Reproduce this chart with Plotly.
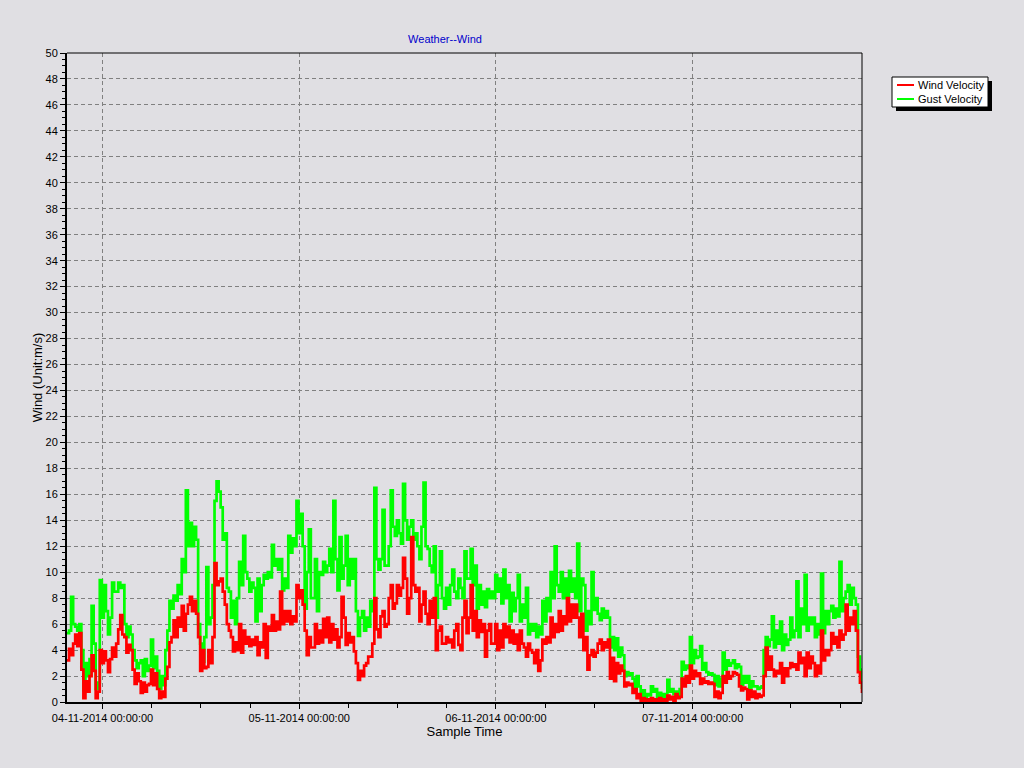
import plotly.graph_objects as go
import pandas as pd

START = "2014-11-03 19:40"
STEP = "15min"

# Wind velocity (m/s), one sample per 15 min (4 per row = 1 hour)
wind = [
    3.2, 4.1, 3.6, 4.5,
    5.2, 4.3, 5.3, 2.5,
    0.3, 1.6, 0.8, 2.0,
    3.6, 2.4, 0.3, 0.8,
    4.0, 3.0, 3.9, 3.2,
    2.3, 3.3, 4.2, 3.5,
    4.5, 5.6, 6.7, 5.2,
    5.0, 3.8, 4.4, 4.0,
    2.5, 1.4, 2.2, 1.6,
    0.7, 1.5, 0.8, 1.3,
    1.4, 2.5, 1.3, 2.2,
    1.0, 0.3, 0.8, 0.4,
    1.8, 2.7, 4.6, 5.0,
    6.3, 5.0, 6.5, 5.8,
    7.4, 5.5, 6.8, 7.5,
    8.1, 7.0, 7.8, 6.8,
    5.0, 2.4, 4.0, 2.6,
    2.7, 4.0, 3.0, 5.0,
    10.7, 9.0, 9.3, 9.5,
    8.5, 7.5, 6.0, 5.5,
    5.0, 3.9, 4.6, 4.0,
    6.0, 3.8, 5.5, 4.5,
    5.0, 4.3, 4.8, 4.4,
    5.0, 3.6, 4.6, 4.2,
    6.0, 3.4, 5.8, 5.5,
    6.7, 5.5, 6.2, 5.6,
    8.5, 6.0, 7.0, 6.2,
    7.0, 6.0, 6.6, 6.2,
    9.0, 8.0, 8.6, 7.5,
    5.5, 3.6, 5.0, 4.2,
    4.2, 6.0, 4.5, 5.5,
    4.6, 6.4, 5.0, 6.5,
    4.6, 6.0, 4.8, 5.6,
    4.2, 5.0, 8.1, 6.5,
    4.4, 5.3, 4.6, 5.0,
    3.9, 3.0, 1.7, 2.4,
    2.0, 2.8, 3.0, 3.5,
    3.5, 4.5, 8.0, 5.6,
    5.0, 6.6, 7.0, 5.8,
    6.0, 8.0, 9.0, 7.2,
    7.6, 9.0, 8.2, 8.8,
    11.1, 9.5, 6.8, 8.0,
    12.7, 9.0, 8.5, 8.8,
    6.2, 7.5, 8.5, 6.8,
    6.0, 7.8, 6.5, 8.0,
    4.0, 5.5, 5.8, 4.5,
    4.5, 5.0, 4.6, 4.8,
    4.2, 5.5, 6.0, 4.4,
    4.0, 6.5, 7.8, 5.3,
    6.5, 9.0, 5.5, 7.0,
    5.0, 6.3, 5.4, 6.0,
    3.5, 5.5, 6.0, 4.5,
    4.5, 6.0, 4.0, 5.5,
    4.2, 6.0, 5.0, 5.8,
    4.6, 5.5, 4.5, 5.2,
    4.0, 5.5, 4.5, 4.2,
    3.5, 4.5, 4.0, 3.8,
    3.0, 4.0, 2.4, 3.2,
    4.8, 4.5, 5.0, 4.6,
    6.5, 5.0, 6.0, 5.4,
    7.0, 5.5, 6.6, 6.0,
    8.0, 6.2, 7.5, 6.5,
    7.5, 6.5, 5.0, 6.8,
    4.0, 5.0, 2.5, 3.6,
    4.0, 3.5, 3.8, 4.5,
    4.8, 4.0, 4.6, 4.2,
    4.8, 1.8, 3.4, 1.6,
    3.0, 2.2, 2.8, 2.4,
    1.2, 1.5, 1.3, 1.4,
    0.7, 1.0, 0.3, 0.6,
    0.0, 0.3, 0.1, 0.2,
    0.0, 0.3, 0.1, 0.2,
    0.1, 0.3, 0.0, 0.2,
    0.0, 0.5, 0.2, 0.4,
    0.1, 0.6, 0.3, 0.4,
    1.8, 1.2, 2.0, 1.5,
    2.8, 1.8, 2.4, 2.0,
    2.2, 1.4, 1.8, 1.5,
    1.6, 1.4, 1.5, 1.4,
    0.4, 0.8, 0.3, 0.7,
    2.0, 1.5, 2.3, 1.8,
    2.0, 2.3, 2.2, 2.1,
    1.2, 0.9, 1.1, 1.0,
    0.2, 0.9, 0.4, 0.8,
    0.3, 0.6, 0.4, 0.5,
    2.0, 4.2, 2.5, 3.5,
    2.5, 2.0, 2.4, 2.2,
    3.0, 1.5, 2.6, 2.0,
    2.6, 3.0, 2.7, 2.9,
    2.5, 3.8, 3.0, 3.4,
    2.0, 3.8, 2.6, 3.5,
    3.0, 2.0, 2.8, 2.2,
    5.5, 3.2, 4.0, 3.6,
    4.0, 5.3, 4.5, 5.0,
    4.2, 5.5, 4.8, 5.2,
    7.5, 5.5, 6.5, 6.0,
    7.0, 5.5, 2.3, 1.5,
    0.7,
]

# Gust velocity (m/s), same sample times
gust = [
    5.3, 5.5, 8.1, 6.0,
    5.8, 5.5, 6.0, 4.0,
    0.9, 3.0, 2.0, 3.3,
    7.4, 4.5, 1.0, 1.5,
    9.4, 6.5, 9.0, 7.0,
    5.2, 6.5, 9.2, 8.5,
    8.5, 9.2, 8.8, 9.0,
    6.0, 5.0, 5.8, 5.2,
    4.0, 3.2, 2.6, 3.0,
    3.2, 2.0, 3.3, 2.4,
    2.8, 4.8, 2.6, 3.5,
    2.4, 1.0, 2.0, 1.3,
    4.0, 5.5, 7.8, 7.2,
    8.2, 7.8, 9.0, 8.3,
    11.0, 10.0, 16.3, 12.0,
    13.8, 12.0, 13.5, 12.5,
    6.0, 4.5, 3.1, 5.0,
    10.4, 6.0, 6.5, 9.0,
    15.5, 17.0, 16.2, 15.0,
    12.5, 13.0, 8.8, 8.5,
    6.5, 7.8, 6.0, 8.0,
    10.8, 9.0, 12.8, 10.0,
    9.5, 8.5, 9.2, 8.8,
    6.2, 9.5, 7.0, 9.0,
    9.8, 9.5, 10.0, 9.6,
    12.1, 10.5, 11.0, 10.2,
    11.0, 8.6, 9.5, 8.8,
    12.8, 11.5, 12.6, 12.0,
    15.5, 13.0, 14.5, 12.0,
    7.2, 10.0, 13.3, 8.0,
    8.0, 11.0, 7.0, 10.0,
    9.8, 10.8, 10.0, 10.5,
    11.8, 10.0, 15.5, 11.0,
    8.6, 12.7, 9.5, 10.5,
    12.8, 9.0, 11.0, 9.5,
    11.0, 7.0, 5.1, 6.5,
    7.0, 5.5, 6.5, 5.8,
    7.8, 7.0, 16.5, 11.0,
    10.2, 11.0, 14.8, 10.5,
    10.5, 12.0, 16.3, 13.5,
    12.8, 14.0, 13.0, 12.2,
    16.8, 14.0, 12.5, 13.5,
    14.0, 12.5, 13.0, 12.0,
    11.0, 13.5, 16.9, 12.0,
    11.8, 10.5, 10.0, 12.0,
    6.5, 9.0, 11.6, 8.0,
    7.2, 8.8, 7.5, 9.0,
    10.2, 8.5, 8.0, 9.5,
    8.8, 8.0, 11.6, 9.5,
    9.5, 11.8, 9.0, 10.5,
    7.2, 9.0, 7.5, 8.5,
    7.3, 8.7, 8.0, 8.5,
    8.0, 9.8, 8.5, 9.5,
    7.6, 10.2, 8.0, 9.0,
    6.2, 8.4, 7.0, 8.0,
    9.8, 6.2, 7.5, 6.5,
    8.8, 5.2, 6.0, 5.5,
    6.0, 5.0, 5.8, 5.2,
    7.8, 6.2, 8.0, 7.0,
    10.0, 8.0, 12.0, 9.0,
    8.5, 10.0, 8.0, 9.5,
    8.2, 10.1, 8.5, 9.5,
    8.0, 12.2, 7.0, 9.5,
    9.0, 5.5, 7.0, 6.0,
    10.0, 7.1, 8.0, 6.8,
    6.3, 7.2, 6.5, 7.0,
    6.5, 4.2, 5.0, 4.0,
    4.9, 3.5, 4.2, 3.6,
    2.0, 2.3, 2.1, 2.2,
    1.8, 1.0, 2.0, 1.2,
    0.4, 0.9, 0.3, 0.6,
    0.5, 1.2, 0.8, 1.0,
    0.4, 0.7, 0.3, 0.6,
    0.4, 1.7, 0.8, 1.0,
    0.6, 0.8, 0.5, 1.0,
    3.1, 2.5, 2.8, 2.6,
    5.0, 3.0, 4.0, 3.4,
    3.5, 4.3, 2.5, 3.0,
    2.3, 2.1, 2.2, 2.1,
    1.3, 2.0, 1.2, 1.8,
    3.8, 2.5, 3.2, 2.8,
    3.0, 3.2, 2.6, 2.9,
    2.7, 1.3, 2.0, 1.5,
    2.0, 1.0, 1.6, 1.2,
    1.2, 1.0, 1.1, 1.2,
    4.0, 5.0, 4.3, 4.8,
    6.6, 4.2, 5.5, 4.5,
    6.2, 4.0, 5.2, 4.4,
    4.8, 6.5, 5.0, 5.5,
    9.3, 5.0, 7.2, 6.0,
    9.8, 5.5, 6.5, 6.0,
    6.5, 5.0, 6.0, 5.2,
    9.9, 5.3, 7.0, 6.0,
    7.0, 7.4, 6.5, 7.2,
    6.6, 10.8, 7.0, 8.0,
    8.5, 9.0, 7.5, 8.8,
    8.0, 7.5, 3.5, 2.5,
    1.0,
]

SERIES = ["Wind Velocity", "Gust Velocity"]
COLORS = {"Wind Velocity": "#FF0000", "Gust Velocity": "#00FF00"}

times = pd.date_range(START, periods=len(wind), freq=STEP)

BG = "#E0DFE3"
GRID = "#808080"
FONT = "Liberation Sans, Arial, sans-serif"

fig = go.Figure()
fig.add_trace(go.Scatter(
    x=times, y=gust, name=SERIES[1], mode="lines", showlegend=False,
    line=dict(color=COLORS[SERIES[1]], width=2.7, shape="hv"),
))
fig.add_trace(go.Scatter(
    x=times, y=wind, name=SERIES[0], mode="lines", showlegend=False,
    line=dict(color=COLORS[SERIES[0]], width=2.7, shape="hv"),
))

L, R, T, B = 67, 862, 53, 702
W, H = 1024, 768
pw, ph = R - L, B - T

def px(x):
    return (x - L) / pw

def py(y):
    return (B - y) / ph

# legend box (drawn as shapes + text)
LX0, LX1, LY0, LY1 = 892, 988, 77, 107
shapes = [
    dict(type="line", xref="paper", yref="paper", x0=0, x1=1, y0=1, y1=1,
         line=dict(color="black", width=1)),
    dict(type="line", xref="paper", yref="paper", x0=1, x1=1, y0=0, y1=1,
         line=dict(color="black", width=1)),
    dict(type="rect", xref="paper", yref="paper",
         x0=px(LX0 + 4), x1=px(LX1 + 4), y0=py(LY1 + 4), y1=py(LY0 + 4),
         fillcolor="black", line=dict(width=0)),
    dict(type="rect", xref="paper", yref="paper",
         x0=px(LX0), x1=px(LX1), y0=py(LY1), y1=py(LY0),
         fillcolor="white", line=dict(color="black", width=1)),
]
annotations = []
for i, name in enumerate(SERIES):
    yy = 85 + 14 * i
    shapes.append(dict(type="line", xref="paper", yref="paper",
                       x0=px(897), x1=px(914), y0=py(yy), y1=py(yy),
                       line=dict(color=COLORS[name], width=2)))
    annotations.append(dict(text=name, xref="paper", yref="paper",
                            x=px(916), y=py(yy), xanchor="left",
                            yanchor="middle", showarrow=False,
                            font=dict(size=11, family=FONT, color="black")))

fig.update_layout(
    width=W, height=H,
    paper_bgcolor=BG, plot_bgcolor=BG,
    margin=dict(l=L, r=W - R, t=T, b=H - B, autoexpand=False),
    font=dict(family=FONT, size=11, color="black"),
    title=dict(text="Weather--Wind", x=445 / W, xanchor="center",
               y=1 - 39 / H, yanchor="middle",
               font=dict(color="#0000CC", size=11, family=FONT)),
    showlegend=False,
    xaxis=dict(
        type="date", range=[times[0], times[-1]],
        tick0="2014-11-04", dtick=86400000,
        tickformat="%d-%m-%Y %H:%M:%S",
        ticks="outside", ticklen=5, tickcolor="black",
        showline=True, linecolor="black", linewidth=2,
        showgrid=True, gridcolor=GRID, griddash="4px,3px", gridwidth=1,
        zeroline=False,
        minor=dict(dtick=21600000, ticks="outside", ticklen=4,
                   tickcolor="black", showgrid=False),
        title=dict(text="Sample Time", standoff=2),
    ),
    yaxis=dict(
        range=[0, 50], tick0=0, dtick=2,
        ticks="outside", ticklen=5, tickcolor="black",
        showline=True, linecolor="black", linewidth=2,
        showgrid=True, gridcolor=GRID, griddash="4px,3px", gridwidth=1,
        zeroline=False,
        minor=dict(dtick=0.5, ticks="outside", ticklen=3,
                   tickcolor="black", showgrid=False),
        title=dict(text="Wind (Unit:m/s)", standoff=0),
    ),
    shapes=shapes,
    annotations=annotations,
)

fig.write_html(
    "out.html",
    config={"displayModeBar": False},
    post_script="document.body.style.margin='0';"
                "document.body.style.background='%s';" % BG,
)
